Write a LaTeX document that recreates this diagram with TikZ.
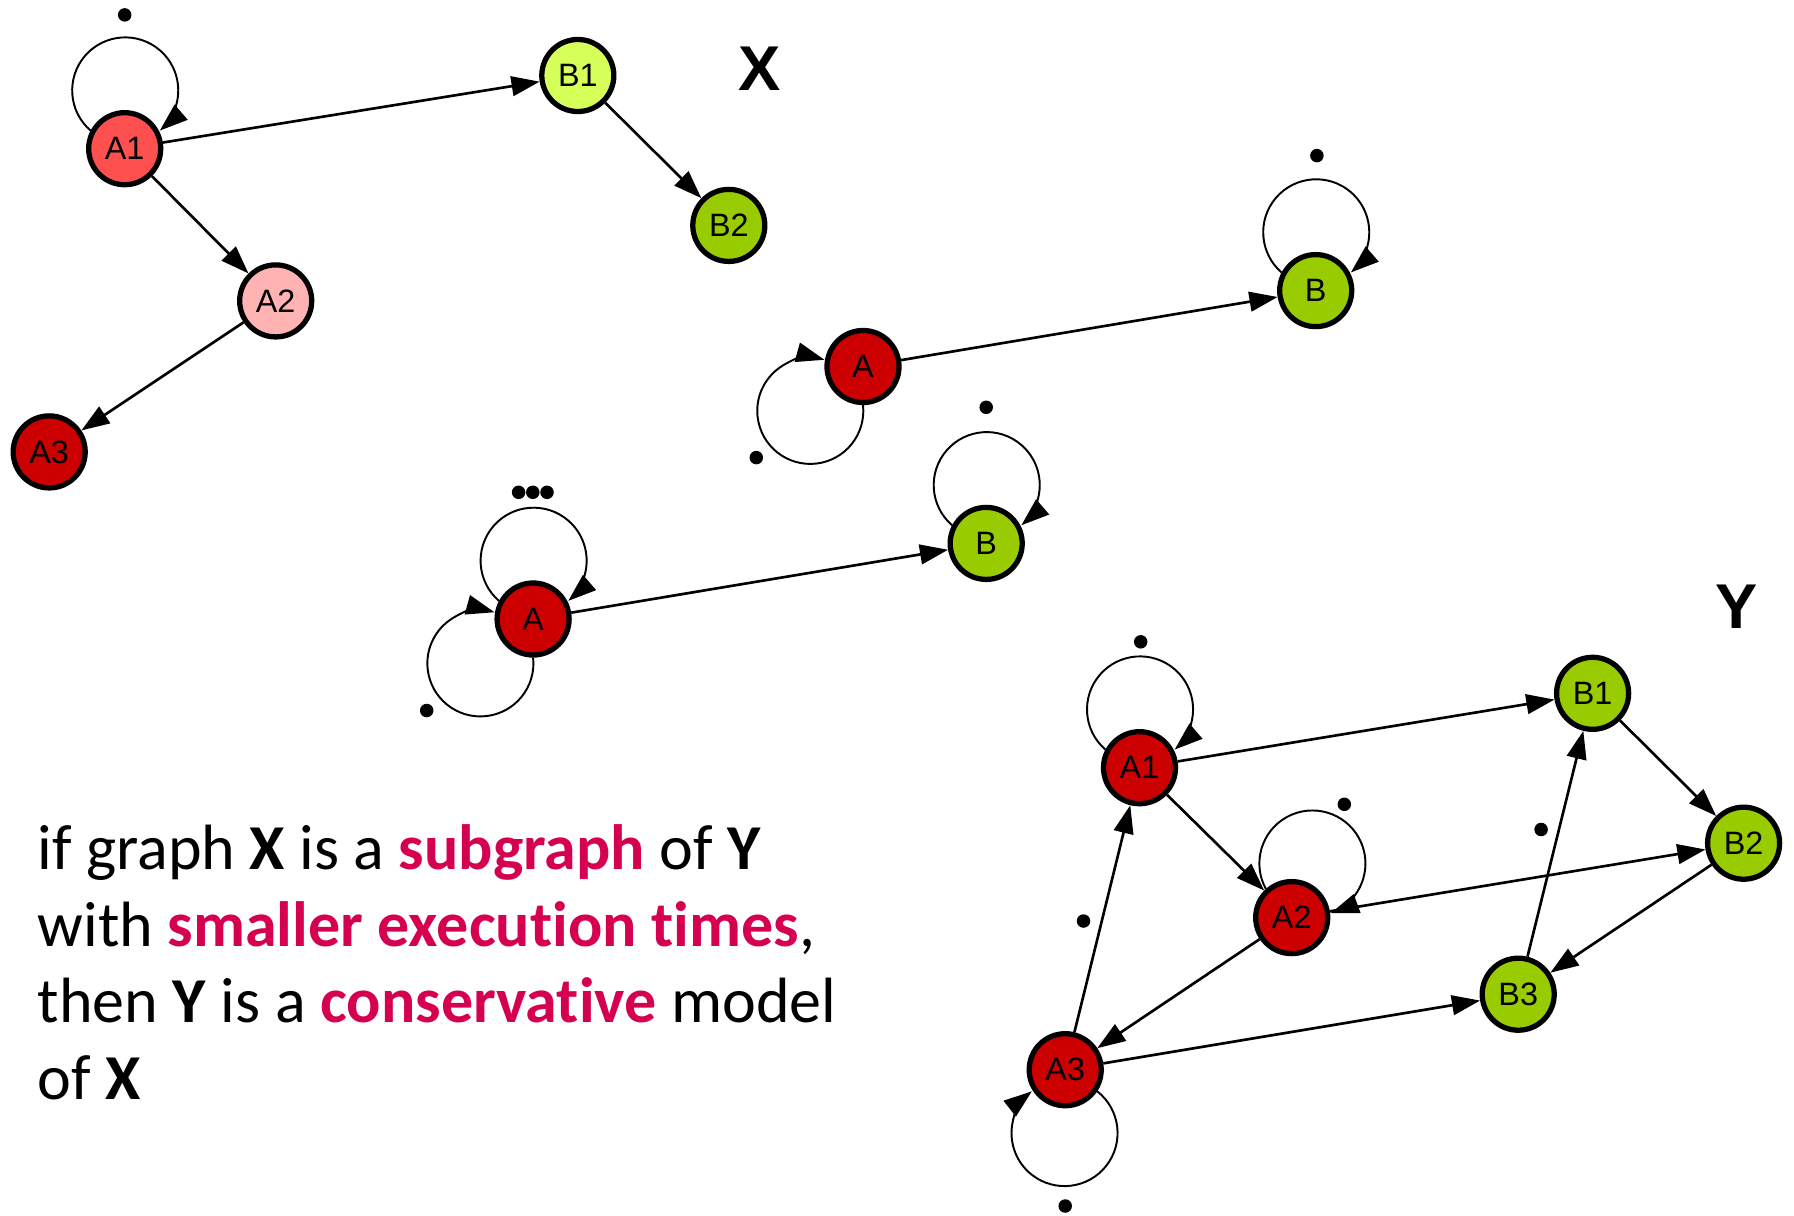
\documentclass[tikz,border=0pt]{standalone}
\usepackage{fontspec}
\setmainfont[Ligatures=NoCommon]{Carlito}
\newfontfamily\arialf{Liberation Sans}
\usetikzlibrary{arrows.meta}
\definecolor{lred}{RGB}{255,80,80}
\definecolor{pinkr}{RGB}{255,179,179}
\definecolor{dred}{RGB}{204,0,0}
\definecolor{lgreen}{RGB}{214,255,90}
\definecolor{ygreen}{RGB}{153,204,0}
\definecolor{mag}{RGB}{214,0,80}
\begin{document}
\begin{tikzpicture}[x=0.01cm,y=-0.01cm,
  st/.style={circle,draw=black,line width=1.5pt,minimum size=0.72cm,inner sep=0pt,
    font=\arialf\fontsize{9.2}{10}\selectfont},
  edge/.style={-{Triangle[length=8pt,width=5.6pt]},line width=0.75pt},
  loopedge/.style={-{Triangle[length=8pt,width=5.6pt]},line width=0.55pt},
  tok/.style={circle,fill=black,inner sep=0pt,minimum size=0.135cm},
  big/.style={font=\arialf\bfseries\fontsize{18}{20}\selectfont},
  txt/.style={anchor=base west,inner sep=0pt,font=\fontsize{18.2}{21}\selectfont},
]
\useasboundingbox (0,0) rectangle (1794,1215);

% ---------- graph X ----------
\node[st,fill=lred]   (xa1) at (124.7,148.7) {A1};
\node[st,fill=lgreen] (xb1) at (577.8,75.5) {B1};
\node[st,fill=ygreen] (xb2) at (728.8,225.4) {B2};
\node[st,fill=pinkr]  (xa2) at (275.7,300.9) {A2};
\node[st,fill=dred]   (xa3) at (49.2,451.9) {A3};
\node[big] (lx) at (759.7,68.6) {X};
\draw[edge] (xa1) -- (xb1);
\draw[edge] (xb1) -- (xb2);
\draw[edge] (xa1) -- (xa2);
\draw[edge] (xa2) -- (xa3);
\draw[loopedge] (xa1.152.7) arc[start angle=229.2,end angle=-49.2,radius=0.53cm];
\node[tok] (tx1) at (124.7,14.9) {};

% ---------- middle graph 1 ----------
\node[st,fill=dred]   (m1a) at (863,366.5) {A};
\node[st,fill=ygreen] (m1b) at (1315.7,290.6) {B};
\draw[edge] (m1a) -- (m1b);
\draw[loopedge] (m1b.152.7) arc[start angle=229.2,end angle=-49.2,radius=0.53cm];
\draw[loopedge] (m1a.270.2) arc[start angle=366.2,end angle=74.6,radius=0.53cm];
\node[tok] (t1b) at (1316.9,155.6) {};
\node[tok] (t1a) at (756.3,457.6) {};

% ---------- middle graph 2 ----------
\node[st,fill=dred]   (m2a) at (533.1,619) {A};
\node[st,fill=ygreen] (m2b) at (986.2,543.4) {B};
\draw[edge] (m2a) -- (m2b);
\draw[loopedge] (m2a.152.7) arc[start angle=229.2,end angle=-49.2,radius=0.53cm];
\draw[loopedge] (m2a.270.2) arc[start angle=366.2,end angle=74.6,radius=0.53cm];
\draw[loopedge] (m2b.152.7) arc[start angle=229.2,end angle=-49.2,radius=0.53cm];
\node[tok] (t2a1) at (518.6,492.3) {};
\node[tok] (t2a2) at (532.8,492.3) {};
\node[tok] (t2a3) at (547.0,492.3) {};
\node[tok] (t2b) at (986.2,407.3) {};
\node[tok] (t2c) at (426.7,710.5) {};

% ---------- graph Y ----------
\node[st,fill=dred]   (ya1) at (1139.5,767.7) {A1};
\node[st,fill=ygreen] (yb1) at (1592.6,693.3) {B1};
\node[st,fill=ygreen] (yb2) at (1743.6,843.2) {B2};
\node[st,fill=dred]   (ya2) at (1291.7,917.6) {A2};
\node[st,fill=ygreen] (yb3) at (1518.2,994.2) {B3};
\node[st,fill=dred]   (ya3) at (1065.2,1069.7) {A3};
\node[big] (ly) at (1736.2,607) {Y};
\draw[edge] (ya1) -- (yb1);
\draw[edge] (ya1) -- (ya2);
\draw[edge] (ya2) -- (ya3);
\draw[edge] (ya2) -- (yb2);
\draw[edge] (ya3) -- (ya1);
\draw[edge] (ya3) -- (yb3);
\draw[edge] (yb1) -- (yb2);
\draw[edge] (yb2) -- (yb3);
\draw[edge] (yb3) -- (yb1);
\draw[loopedge] (ya1.152.7) arc[start angle=229.2,end angle=-49.2,radius=0.53cm];
\draw[loopedge] (ya2.132.1) arc[start angle=208.6,end angle=-69.8,radius=0.53cm];
\draw[loopedge] (ya3.326.9) arc[start angle=411.9,end angle=128.1,radius=0.53cm];
\node[tok] (ty1) at (1140.7,641.8) {};
\node[tok] (ty2) at (1344.3,804.3) {};
\node[tok] (ty3) at (1541.1,829.5) {};
\node[tok] (ty4) at (1083.5,921) {};
\node[tok] (ty5) at (1065.2,1206) {};

% ---------- text ----------
\node[txt] (l1) at (37,869.5) {if graph \textbf{X} is a \textbf{\textcolor{mag}{subgraph}} of \textbf{Y}};
\node[txt] (l2) at (37,946.1) {with \textbf{\textcolor{mag}{smaller execution times}},};
\node[txt] (l3) at (37,1022.7) {then \textbf{Y} is a \textbf{\textcolor{mag}{conservative}} model};
\node[txt] (l4) at (37,1099.3) {of \textbf{X}};
\end{tikzpicture}
\end{document}
